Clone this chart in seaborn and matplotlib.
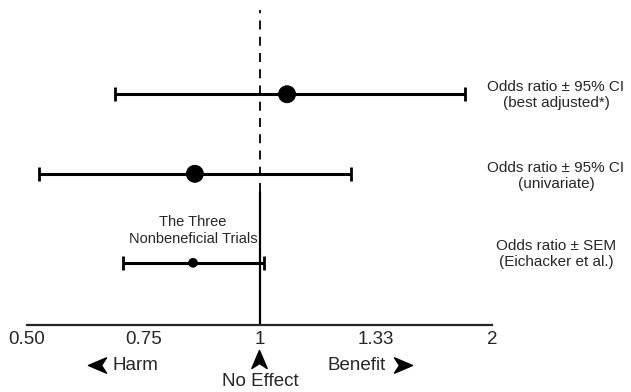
import numpy as np
import pandas as pd
import matplotlib
matplotlib.use("Agg")
import matplotlib.pyplot as plt
from matplotlib.path import Path
from matplotlib.transforms import Affine2D
import seaborn as sns

# values
rows = ["best adjusted", "univariate", "Eichacker"]
odds = [1.063, 0.861, 0.857]
lower = [0.689, 0.526, 0.706]
upper = [1.79, 1.245, 1.01]
row_y = [2.93, 1.92, 0.79]
dot_size = [150, 150, 40]
ticks = [0.5, 0.75, 1, 4 / 3, 2]
tick_labels = ["0.50", "0.75", "1", "1.33", "2"]
row_labels = ["Odds ratio \u00b1 95% CI\n(best adjusted*)",
              "Odds ratio \u00b1 95% CI\n(univariate)",
              "Odds ratio \u00b1 SEM\n(Eichacker et al.)"]

sns.set_style("white")
plt.rcParams["font.family"] = ["Liberation Sans", "DejaVu Sans"]

df = pd.DataFrame({"row": rows, "odds": odds, "lo": lower, "hi": upper,
                   "y": row_y, "s": dot_size})


# odds ratios: linear below 1, reciprocal above 1 (0.5..2 evenly spaced)
def fwd(x):
    x = np.asarray(x, dtype=float)
    with np.errstate(divide="ignore", invalid="ignore"):
        return np.where(x < 1, x - 1, 1 - 1 / x)


def inv(y):
    y = np.asarray(y, dtype=float)
    with np.errstate(divide="ignore", invalid="ignore"):
        return np.where(y < 0, y + 1, 1 / (1 - y))


fig = plt.figure(figsize=(6.31, 3.92), dpi=100)
ax = fig.add_axes([27 / 631, 67 / 392, 465 / 631, 315 / 392])
ax.set_xscale("function", functions=(fwd, inv))
ax.set_xlim(0.5, 2)
ax.set_ylim(0, 4)

# reference line at 1: solid low, dashed high
ax.plot([1, 1], [0, 1.69], color="black", lw=1.6)
ax.plot([1, 1], [1.69, 4], color="black", lw=1.3, ls=(0, (5, 4)))

ax.errorbar(df["odds"], df["y"],
            xerr=[df["odds"] - df["lo"], df["hi"] - df["odds"]],
            fmt="none", ecolor="black", elinewidth=2.2, capsize=5, capthick=2)
sns.scatterplot(data=df, x="odds", y="y", size="s", sizes=(40, 150),
                color="black", edgecolor="black", legend=False, ax=ax, zorder=3)

ax.text(0.857, 1.20, "The Three\nNonbeneficial Trials", ha="center",
        va="center", fontsize=10.5, linespacing=1.2)

for lab, py in zip(row_labels, [95, 176, 254]):
    fig.text(556 / 631, 1 - py / 392, lab, ha="center", va="center",
             fontsize=11, linespacing=1.25)

ax.set_xticks(ticks)
ax.set_xticklabels(tick_labels, fontsize=13.5)
ax.minorticks_off()
ax.set_yticks([])
ax.set_xlabel("")
ax.set_ylabel("")
sns.despine(ax=ax, left=True)
ax.spines["bottom"].set_linewidth(1.6)
ax.tick_params(axis="x", direction="in", length=7, width=1.6, pad=4)
ax.patch.set_alpha(0)

# arrow heads for Harm / No Effect / Benefit
head = Path([(1, 0), (-1, 0.85), (-0.45, 0), (-1, -0.85), (1, 0)],
            [Path.MOVETO, Path.LINETO, Path.LINETO, Path.LINETO, Path.CLOSEPOLY])
left = head.transformed(Affine2D().rotate_deg(180))
up = head.transformed(Affine2D().rotate_deg(90))
for mk, px, py in [(left, 97, 365), (head, 403, 365), (up, 259, 359)]:
    fig.lines.append(plt.Line2D([px / 631], [1 - py / 392], marker=mk, ms=13,
                                color="black", transform=fig.transFigure))
fig.text(135 / 631, 1 - 365 / 392, "Harm", ha="center", va="center", fontsize=13.5)
fig.text(357 / 631, 1 - 365 / 392, "Benefit", ha="center", va="center", fontsize=13.5)
fig.text(260 / 631, 1 - 381 / 392, "No Effect", ha="center", va="center", fontsize=13.5)

fig.savefig("out.png", dpi=100)
